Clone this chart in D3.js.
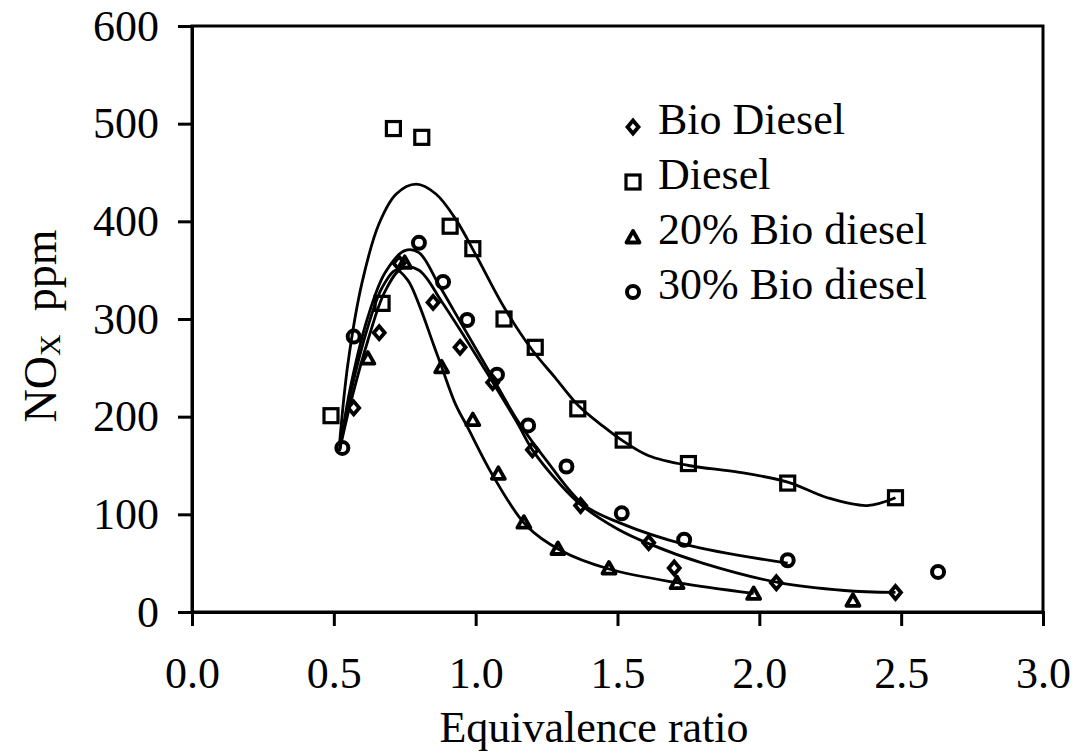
<!DOCTYPE html>
<html>
<head>
<meta charset="utf-8">
<script src="https://cdn.jsdelivr.net/npm/d3@7"></script>
<style>
  body { margin: 0; background: #fff; }
  text { font-family: "Liberation Serif", "Times New Roman", serif; fill: #000; }
</style>
</head>
<body>
<svg id="chart"></svg>
<script>
// measured points, [equivalence ratio, NOx ppm]
const bioDiesel = [[0.57,209],[0.66,286],[0.73,357],[0.85,317],[0.945,271],[1.06,235],[1.2,166],[1.37,109],[1.61,71],[1.70,45],[2.06,30],[2.48,20]]
const diesel = [[0.49,201],[0.67,316],[0.71,495],[0.81,486],[0.91,395],[0.99,372],[1.10,300],[1.21,271],[1.36,208],[1.52,176],[1.75,152],[2.10,132],[2.48,117]]
const bio20 = [[0.62,260],[0.75,358],[0.88,251],[0.99,197],[1.08,142],[1.17,92],[1.29,65],[1.47,45],[1.71,30],[1.98,19],[2.33,12]]
const bio30 = [[0.53,168],[0.57,282],[0.80,378],[0.885,338],[0.97,299],[1.075,243],[1.185,191],[1.32,149],[1.515,101],[1.735,74],[2.10,53],[2.63,41]]

// fitted trend lines
const dieselFit = [[0.52,172],[0.55,255],[0.60,338],[0.66,398],[0.72,428],[0.79,438],[0.86,428],[0.93,402],[1.0,366],[1.1,312],[1.2,268],[1.28,240],[1.36,212],[1.45,190],[1.52,175],[1.61,160],[1.75,150],[1.93,143],[2.1,133],[2.24,117],[2.38,109],[2.48,117]]
const bioDieselFit = [[0.52,165],[0.56,215],[0.62,278],[0.68,328],[0.74,352],[0.80,350],[0.88,318],[0.96,282],[1.05,240],[1.15,192],[1.2,166],[1.3,130],[1.37,110],[1.5,85],[1.61,70],[1.8,50],[2.07,30],[2.3,22],[2.48,20]]
const bio20Fit = [[0.52,165],[0.56,225],[0.62,292],[0.67,332],[0.72,350],[0.76,340],[0.80,315],[0.85,275],[0.88,251],[0.93,212],[0.97,190],[1.06,140],[1.18,88],[1.30,63],[1.47,44],[1.71,30],[1.98,19]]
const bio30Fit = [[0.52,165],[0.56,232],[0.62,302],[0.68,347],[0.75,370],[0.80,368],[0.87,335],[0.95,295],[1.05,245],[1.15,195],[1.25,155],[1.38,110],[1.51,91],[1.74,69],[2.1,50]]

const xTicks = [0, 0.5, 1.0, 1.5, 2.0, 2.5, 3.0]
const yTicks = [0, 100, 200, 300, 400, 500, 600]
const legendNames = ['Bio Diesel', 'Diesel', '20% Bio diesel', '30% Bio diesel']

const width = 1079, height = 754
const plotLeft = 192, plotRight = 1043, plotTop = 26, plotBottom = 612

const svg = d3.select('#chart').attr('width', width).attr('height', height)

const x = d3.scaleLinear().domain([0, 3]).range([plotLeft, plotRight])
const y = d3.scaleLinear().domain([0, 600]).range([plotBottom, plotTop])

// frame
svg.append('rect')
    .attr('x', plotLeft).attr('y', plotTop)
    .attr('width', plotRight - plotLeft).attr('height', plotBottom - plotTop)
    .attr('fill', 'none').attr('stroke', '#000').attr('stroke-width', 3)

const xAxis = svg.append('g')
    .attr('transform', 'translate(0,' + plotBottom + ')')
    .call(d3.axisBottom(x).tickValues(xTicks).tickFormat(d3.format('.1f')).tickSize(14).tickPadding(31))
const yAxis = svg.append('g')
    .attr('transform', 'translate(' + plotLeft + ',0)')
    .call(d3.axisLeft(y).tickValues(yTicks).tickSize(14).tickPadding(19))

for (let ax of [xAxis, yAxis]) {
    ax.select('.domain').attr('stroke-width', 3)
    ax.selectAll('.tick line').attr('stroke-width', 3)
    ax.selectAll('text').style('font-size', '44px').attr('font-family', null)
}

// axis titles
svg.append('text')
    .attr('x', 594).attr('y', 742)
    .attr('text-anchor', 'middle')
    .style('font-size', '44px')
    .text('Equivalence ratio')

const yt = svg.append('text')
    .attr('transform', 'translate(56,326) rotate(-90)')
    .attr('text-anchor', 'middle')
    .style('font-size', '46px')
yt.append('tspan').text('NO')
yt.append('tspan').text('X').style('font-size', '30px').attr('dy', 4)
yt.append('tspan').text('\u00a0 ppm').attr('dy', -4)

// lines
const line = d3.line().x(d => x(d[0])).y(d => y(d[1])).curve(d3.curveCatmullRom.alpha(0.5))
for (let fit of [dieselFit, bioDieselFit, bio20Fit, bio30Fit]) {
    svg.append('path').datum(fit)
        .attr('d', line)
        .attr('fill', 'none').attr('stroke', '#000').attr('stroke-width', 2.8)
}

// marker shapes
function drawMarker(g, kind) {
    if (kind == 0) {
        g.append('path').attr('d', 'M0,-6.5L5.5,0L0,6.5L-5.5,0Z')
            .attr('fill', 'none').attr('stroke', '#000').attr('stroke-width', 3.8)
    } else if (kind == 1) {
        g.append('rect').attr('x', -7).attr('y', -7).attr('width', 14).attr('height', 14)
            .attr('fill', 'none').attr('stroke', '#000').attr('stroke-width', 3.2)
    } else if (kind == 2) {
        g.append('path').attr('d', 'M0,-6L6.5,5.5L-6.5,5.5Z')
            .attr('fill', 'none').attr('stroke', '#000').attr('stroke-width', 3.8).attr('stroke-linejoin', 'round')
    } else {
        g.append('circle').attr('r', 6)
            .attr('fill', 'none').attr('stroke', '#000').attr('stroke-width', 4)
    }
}

const seriesPoints = [bioDiesel, diesel, bio20, bio30]
seriesPoints.forEach(function (pts, i) {
    svg.append('g').selectAll('g')
        .data(pts).enter().append('g')
        .attr('transform', d => 'translate(' + x(d[0]) + ',' + y(d[1]) + ')')
        .each(function () { drawMarker(d3.select(this), i) })
})

// legend
const legend = svg.append('g').attr('transform', 'translate(633,0)')
legendNames.forEach(function (name, i) {
    const by = 134 + i * 55
    drawMarker(legend.append('g').attr('transform', 'translate(0,' + (by - 7) + ')'), i)
    legend.append('text')
        .attr('x', 25).attr('y', by)
        .style('font-size', '44px')
        .text(name)
})
</script>
</body>
</html>
